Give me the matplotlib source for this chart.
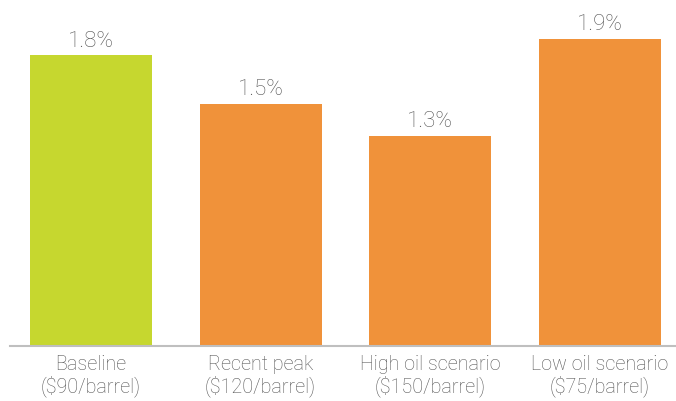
import matplotlib
matplotlib.use("Agg")
import matplotlib.pyplot as plt

categories = ["Baseline\n($90/barrel)", "Recent peak\n($120/barrel)",
              "High oil scenario\n($150/barrel)", "Low oil scenario\n($75/barrel)"]
values = [1.8, 1.5, 1.3, 1.9]
labels = ["1.8%", "1.5%", "1.3%", "1.9%"]
colors = ["#C6D72F", "#F0923A", "#F0923A", "#F0923A"]

plt.rcParams["font.family"] = ["Roboto", "DejaVu Sans"]
txt = "#555555"

fig = plt.figure(figsize=(6.76, 4.02), dpi=100)
ax = fig.add_axes([10 / 676, 55 / 402, 666 / 676, 347 / 402])
x = range(len(values))
bars = ax.bar(x, values, width=0.72, color=colors)
for b, lab in zip(bars, labels):
    ax.text(b.get_x() + b.get_width() / 2, b.get_height() + 0.028, lab,
            ha="center", va="bottom", fontsize=16, color=txt, fontweight="light")

ax.set_xlim(-0.478, 3.45)
ax.set_ylim(0, 2.147)
ax.set_xticks(list(x))
ax.set_xticklabels(categories, fontsize=14.2, color=txt, linespacing=1.08,
                   fontweight="light")
ax.tick_params(axis="x", length=0, pad=6)
ax.set_yticks([])
for s in ["top", "right", "left"]:
    ax.spines[s].set_visible(False)
ax.spines["bottom"].set_color("#BFBFBF")
ax.spines["bottom"].set_linewidth(1.5)

fig.savefig("out.png", dpi=100)
